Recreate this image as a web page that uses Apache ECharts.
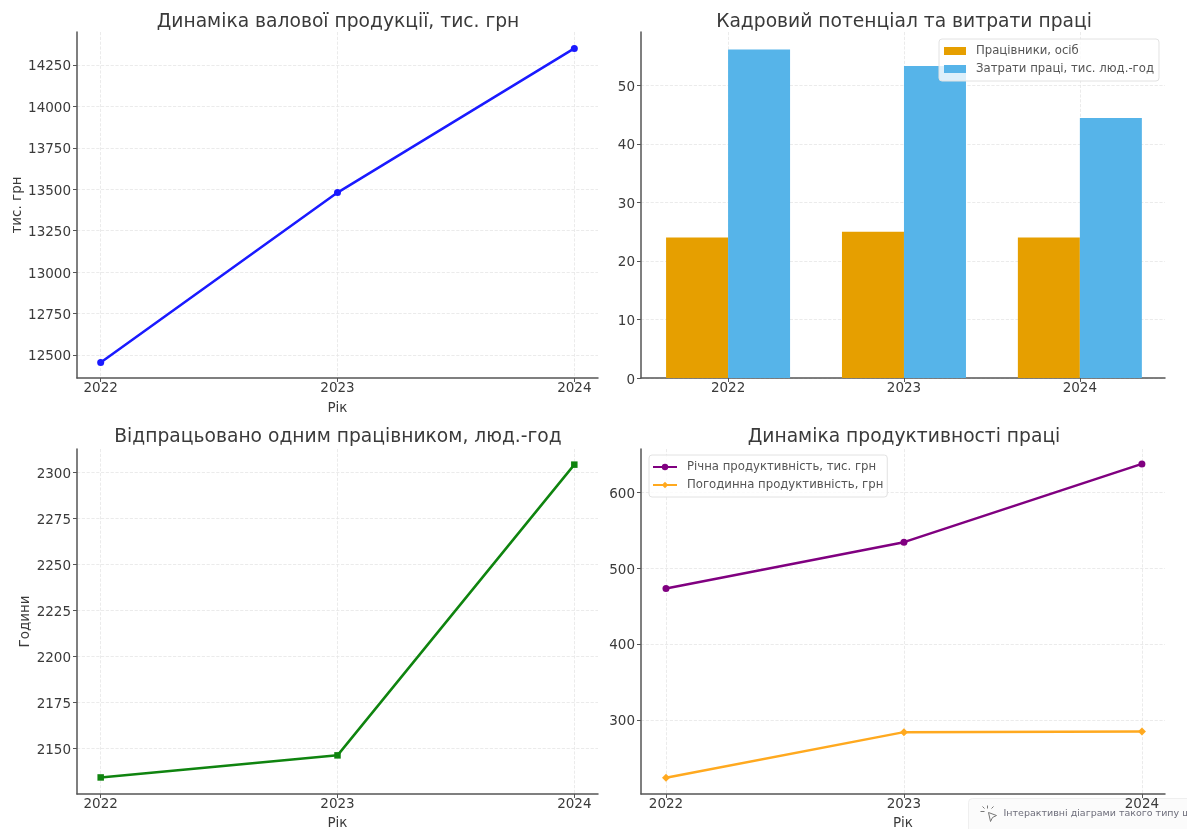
<!DOCTYPE html>
<html lang="uk">
<head>
<meta charset="utf-8">
<style>
  html, body { margin: 0; padding: 0; background: #fff; }
  #chart { width: 1187px; height: 829px; }
</style>
<script src="https://cdn.jsdelivr.net/npm/echarts@6/dist/echarts.min.js"></script>
</head>
<body>
<div id="chart"></div>
<script>
// Labour indicators of the enterprise, 2022–2024
const years = [2022, 2023, 2024];
const grossOutput = [12455, 13480, 14350];
const workers = [24, 25, 24];
const labourInput = [56.1, 53.3, 44.4];
const hoursPerWorker = [2134, 2146, 2304];
const annualProductivity = [473, 534, 637];
const hourlyProductivity = [224, 284, 285];

const grossTicks = [12500, 12750, 13000, 13250, 13500, 13750, 14000, 14250];
const labourTicks = [0, 10, 20, 30, 40, 50];
const hoursTicks = [2150, 2175, 2200, 2225, 2250, 2275, 2300];
const productivityTicks = [300, 400, 500, 600];

const FONT = '"DejaVu Sans", sans-serif';
const TEXT = '#3a3a3a';
const SPINE = '#555555';
const GRID_LINE = { show: true, lineStyle: { color: '#e6e6e6', width: 0.8, type: 'dashed' } };

const pairs = (values) => years.map((y, i) => [y, values[i]]);

function xAxis(gridIndex, min, max, name, nameGap) {
  return {
    type: 'value', gridIndex, min, max,
    name: name || '', nameLocation: 'middle', nameGap: nameGap || 23,
    nameTextStyle: { color: TEXT, fontSize: 13.5, fontFamily: FONT },
    axisLine: { show: true, onZero: false, lineStyle: { color: SPINE, width: 1.5 } },
    axisTick: { show: true, length: 4, customValues: years, lineStyle: { color: SPINE } },
    axisLabel: { customValues: years, color: TEXT, fontSize: 13.5, fontFamily: FONT, margin: 3,
      formatter: (v) => String(v) },
    splitLine: GRID_LINE
  };
}

function yAxis(gridIndex, min, max, ticks, name, nameGap) {
  return {
    type: 'value', gridIndex, min, max,
    name: name || '', nameLocation: 'middle', nameGap: nameGap || 0,
    nameTextStyle: { color: TEXT, fontSize: 13.5, fontFamily: FONT },
    axisLine: { show: true, onZero: false, lineStyle: { color: SPINE, width: 1.5 } },
    axisTick: { show: true, length: 4, customValues: ticks, lineStyle: { color: SPINE } },
    axisLabel: { customValues: ticks, color: TEXT, fontSize: 13.5, fontFamily: FONT, margin: 6,
      verticalAlign: 'top', lineHeight: 4, formatter: (v) => String(v) },
    splitLine: GRID_LINE
  };
}

function title(text, centre, top) {
  return {
    text, left: centre, top, textAlign: 'center', padding: 0,
    textStyle: { color: TEXT, fontSize: 18.7, fontWeight: 'normal', fontFamily: FONT }
  };
}

function line(name, index, values, color, symbol, size) {
  return {
    name, type: 'line', xAxisIndex: index, yAxisIndex: index,
    data: pairs(values), color,
    lineStyle: { color, width: 2.5 },
    itemStyle: { color },
    symbol, symbolSize: size, showSymbol: true
  };
}

function bar(name, values, color) {
  return {
    name, type: 'bar', xAxisIndex: 1, yAxisIndex: 1,
    data: pairs(values), color,
    itemStyle: { color },
    barWidth: 62, barGap: '0%'
  };
}

const legendBase = {
  orient: 'vertical', backgroundColor: 'rgba(255,255,255,0.8)',
  borderColor: '#e2e2e2', borderWidth: 1, borderRadius: 3,
  itemGap: 6, selectedMode: false,
  textStyle: { color: '#555', fontSize: 11.7, fontFamily: FONT, padding: [0, 0, 0, 5] }
};

const option = {
  animation: false,
  backgroundColor: '#ffffff',
  title: [
    title('Динаміка валової продукції, тис. грн', 338, 13),
    title('Кадровий потенціал та витрати праці', 904, 13),
    title('Відпрацьовано одним працівником, люд.-год', 338, 428),
    title('Динаміка продуктивності праці', 904, 428)
  ],
  grid: [
    { left: 77, top: 32, width: 521, height: 346, outerBoundsMode: 'none' },
    { left: 641, top: 32, width: 524, height: 346, outerBoundsMode: 'none' },
    { left: 77, top: 449, width: 521, height: 345, outerBoundsMode: 'none' },
    { left: 641, top: 449, width: 524, height: 345, outerBoundsMode: 'none' }
  ],
  xAxis: [
    xAxis(0, 2021.9, 2024.1, 'Рік'),
    xAxis(1, 2021.505, 2024.484),
    xAxis(2, 2021.9, 2024.1, 'Рік', 22),
    xAxis(3, 2021.895, 2024.097, 'Рік', 22)
  ],
  yAxis: [
    yAxis(0, 12361, 14449, grossTicks, 'тис. грн', 53),
    yAxis(1, 0, 59.1, labourTicks),
    yAxis(2, 2125, 2312.5, hoursTicks, 'Години', 40),
    yAxis(3, 202.6, 656.6, productivityTicks)
  ],
  legend: [
    Object.assign({}, legendBase, {
      data: [{ name: 'Працівники, осіб', icon: 'rect' }, { name: 'Затрати праці, тис. люд.-год', icon: 'rect' }],
      left: 939, top: 39, padding: [6, 5, 6, 5], itemWidth: 22, itemHeight: 8
    }),
    Object.assign({}, legendBase, {
      data: ['Річна продуктивність, тис. грн', 'Погодинна продуктивність, грн'],
      left: 649, top: 455, padding: [6, 4, 6, 3], itemWidth: 24, itemHeight: 8
    })
  ],
  series: [
    line('Валова продукція', 0, grossOutput, '#1a1aff', 'circle', 7),
    bar('Працівники, осіб', workers, '#E69F00'),
    bar('Затрати праці, тис. люд.-год', labourInput, '#56B4E9'),
    line('Відпрацьовано годин', 2, hoursPerWorker, '#0f840f', 'rect', 6.5),
    line('Річна продуктивність, тис. грн', 3, annualProductivity, '#800080', 'circle', 7),
    line('Погодинна продуктивність, грн', 3, hourlyProductivity, '#FFA91F', 'diamond', 8)
  ],
  graphic: [
    {
      type: 'group', left: 968, top: 798, silent: true, z: 100,
      children: [
        { type: 'rect', shape: { x: 0, y: 0, width: 219, height: 31, r: [4, 0, 0, 0] },
          style: { fill: '#fbfbfb', stroke: '#efefef', lineWidth: 1 } },
        { type: 'polygon', shape: { points: [[20, 14], [28, 17], [24, 19], [22, 23]] },
          style: { fill: 'none', stroke: '#777', lineWidth: 1 } },
        { type: 'line', shape: { x1: 19, y1: 7, x2: 19, y2: 10 }, style: { stroke: '#777', lineWidth: 1 } },
        { type: 'line', shape: { x1: 12, y1: 13, x2: 16, y2: 13 }, style: { stroke: '#777', lineWidth: 1 } },
        { type: 'line', shape: { x1: 14, y1: 8, x2: 16, y2: 10 }, style: { stroke: '#777', lineWidth: 1 } },
        { type: 'line', shape: { x1: 25, y1: 8, x2: 23, y2: 10 }, style: { stroke: '#777', lineWidth: 1 } },
        { type: 'text', x: 35, y: 10,
          style: { text: 'Інтерактивні діаграми такого типу ще', fill: '#6d6d7a', fontSize: 9.5, fontFamily: FONT } }
      ]
    }
  ]
};

echarts.init(document.getElementById('chart'), null, { renderer: 'canvas' }).setOption(option);
</script>
</body>
</html>
